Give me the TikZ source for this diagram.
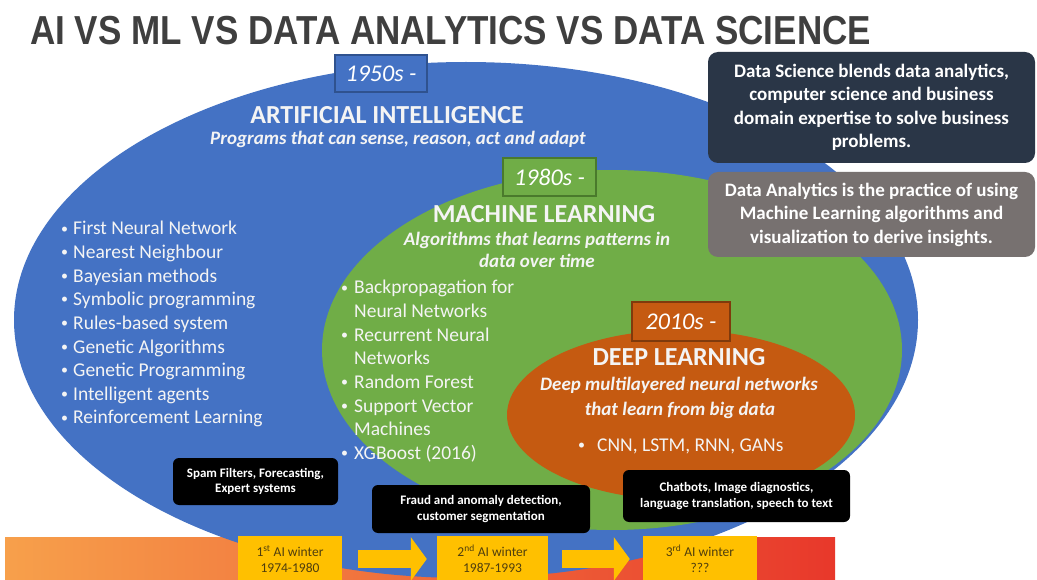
\documentclass[tikz,border=0pt]{standalone}
\usepackage{fontspec}
\setmainfont{Carlito}
\newfontfamily\titlefont[FakeStretch=0.865]{Liberation Sans}
\usetikzlibrary{arrows.meta}
\definecolor{aiblue}{HTML}{4472C4}
\definecolor{aiblueD}{HTML}{2F528F}
\definecolor{mlgreen}{HTML}{70AD47}
\definecolor{mlgreenD}{HTML}{4A7A2C}
\definecolor{dlorange}{HTML}{C55A11}
\definecolor{dlorangeD}{HTML}{7F3A0C}
\definecolor{titlegray}{HTML}{3F3F3F}
\definecolor{dsnavy}{HTML}{2A3647}
\definecolor{dagray}{HTML}{777170}
\definecolor{winteryellow}{HTML}{FFC000}
\definecolor{wintertext}{HTML}{4F3E0E}
\definecolor{barorange}{HTML}{F7A04B}
\definecolor{barred}{HTML}{E8382B}
\definecolor{softwhite}{HTML}{F4F4F4}
\newcommand{\smallbul}{\raisebox{1.8pt}{\fontsize{14}{14}\selectfont\textbullet}}
\begin{document}
\begin{tikzpicture}[x=1pt,y=-1pt,
  lbl/.style={inner sep=0pt, text=softwhite},
  bodytext/.style={lbl, font=\fontsize{19.5}{23.5}\selectfont, anchor=base west},
  heading/.style={lbl, font=\bfseries\fontsize{26}{30}\selectfont, anchor=base},
  subhead/.style={lbl, font=\bfseries\itshape\fontsize{19}{23}\selectfont, anchor=base},
  datebox/.style={draw, line width=2pt, inner sep=0pt, text=white,
    font=\itshape\fontsize{24}{28}\selectfont},
  infobox/.style={rounded corners=10pt, inner sep=0pt, text=white, align=center,
    font=\bfseries\fontsize{19}{23.5}\selectfont, minimum width=327pt},
  usebox/.style={fill=black, rounded corners=6pt, inner sep=0pt, text=white, align=center,
    font=\bfseries\fontsize{13}{15.5}\selectfont},
  winterbox/.style={fill=winteryellow, inner sep=0pt, text=wintertext, align=center,
    font=\fontsize{13.5}{16}\selectfont, minimum height=46pt},
  yarrow/.style={draw=winteryellow, line width=18pt, -{Triangle[length=16pt,width=43pt]}}
]
\useasboundingbox (0,0) rectangle (1037,580);
\fill[white] (0,0) rectangle (1037,580);

% title
\node[inner sep=0pt, anchor=base west, text=titlegray,
  font=\titlefont\bfseries\fontsize{40.5}{44}\selectfont] (title) at (30,45)
  {AI VS ML VS DATA ANALYTICS VS DATA SCIENCE};

% bottom gradient bar
\shade[left color=barorange, right color=barred] (5,537) rectangle (835,580);

% nested ellipses
\fill[aiblue] (466,320) ellipse [x radius=452pt, y radius=258pt];
\fill[mlgreen] (612,350) ellipse [x radius=290pt, y radius=180pt];
\fill[dlorange] (681,415) ellipse [x radius=174pt, y radius=85pt];

% date boxes
\node[datebox, fill=aiblue, draw=aiblueD, minimum width=92pt, minimum height=37pt] (d1950) at (381,73.5) {1950s -};
\node[datebox, fill=mlgreen, draw=mlgreenD, minimum width=93pt, minimum height=38pt] (d1980) at (549.5,177) {1980s -};
\node[datebox, fill=dlorange, draw=dlorangeD, minimum width=98pt, minimum height=39pt] (d2010) at (681,321.5) {2010s -};

% AI
\node[heading] (aihead) at (387,124) {ARTIFICIAL INTELLIGENCE};
\node[subhead] (aisub) at (398,145) {Programs that can sense, reason, act and adapt};
\foreach \t [count=\i from 0] in {First Neural Network, Nearest Neighbour, Bayesian methods,
  Symbolic programming, Rules-based system, Genetic Algorithms, Genetic Programming,
  Intelligent agents, Reinforcement Learning} {
  \node[bodytext] (aibul\i) at (61,235+23.6*\i) {\smallbul};
  \node[bodytext] (ai\i) at (73,235+23.6*\i) {\t};
}

% ML
\node[heading] (mlhead) at (544,223) {MACHINE LEARNING};
\node[subhead] (mlsub1) at (537,246) {Algorithms that learns patterns in};
\node[subhead] (mlsub2) at (537,268) {data over time};
\foreach \b/\t [count=\i from 0] in {1/Backpropagation for, 0/Neural Networks, 1/Recurrent Neural,
  0/Networks, 1/Random Forest, 1/Support Vector, 0/Machines, 1/XGBoost (2016)} {
  \ifnum\b=1 \node[bodytext] (mlbul\i) at (341,294+23.6*\i) {\smallbul}; \fi
  \node[bodytext] (ml\i) at (354,294+23.6*\i) {\t};
}

% DL
\node[heading] (dlhead) at (679,366) {DEEP LEARNING};
\node[subhead] (dlsub1) at (679,390) {Deep multilayered neural networks};
\node[subhead] (dlsub2) at (680,415) {that learn from big data};
\node[bodytext] (dlbul) at (578,451) {\smallbul};
\node[bodytext] (dl0) at (597,451) {CNN, LSTM, RNN, GANs};

% info boxes
\node[infobox, fill=dsnavy, minimum height=111pt] (ds) at (871.5,107.5)
  {Data Science blends data analytics,\\computer science and business\\domain expertise to solve business\\problems.};
\node[infobox, fill=dagray, minimum height=85pt] (da) at (871.5,214.5)
  {Data Analytics is the practice of using\\Machine Learning algorithms and\\visualization to derive insights.};

% application boxes
\node[usebox, minimum width=165pt, minimum height=47pt] (use1) at (255.5,481.5)
  {Spam Filters, Forecasting,\\Expert systems};
\node[usebox, minimum width=218pt, minimum height=48pt] (use2) at (481,509)
  {Fraud and anomaly detection,\\customer segmentation};
\node[usebox, minimum width=227pt, minimum height=52pt] (use3) at (736.5,496)
  {Chatbots, Image diagnostics,\\language translation, speech to text};

% AI winters
\node[winterbox, minimum width=104pt] (w1) at (290,559) {1\textsuperscript{st} AI winter\\1974-1980};
\node[winterbox, minimum width=111pt] (w2) at (492.5,559) {2\textsuperscript{nd} AI winter\\1987-1993};
\node[winterbox, minimum width=114pt] (w3) at (700,559) {3\textsuperscript{rd} AI winter\\???};
\draw[yarrow] ([xshift=16pt]w1.east) -- ([xshift=-10pt]w2.west);
\draw[yarrow] ([xshift=14pt]w2.east) -- ([xshift=-13pt]w3.west);
\end{tikzpicture}
\end{document}
